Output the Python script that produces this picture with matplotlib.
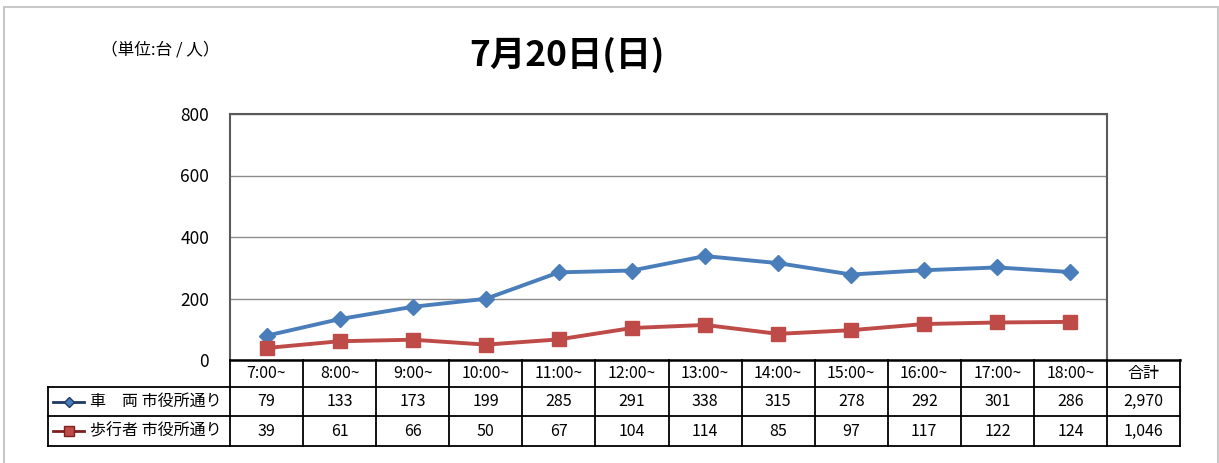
import matplotlib.pyplot as plt
from matplotlib.lines import Line2D
from matplotlib.patches import Rectangle

plt.rcParams['font.family'] = ['Noto Sans CJK JP', 'DejaVu Sans']

# data
hours = ['7:00~', '8:00~', '9:00~', '10:00~', '11:00~', '12:00~',
         '13:00~', '14:00~', '15:00~', '16:00~', '17:00~', '18:00~']
vehicles = [79, 133, 173, 199, 285, 291, 338, 315, 278, 292, 301, 286]
walkers = [39, 61, 66, 50, 67, 104, 114, 85, 97, 117, 122, 124]
vehicle_total = '2,970'
walker_total = '1,046'
series_names = ['車　両 市役所通り', '歩行者 市役所通り']
blue = '#4A7EBB'
red = '#BE4B48'

W, H = 1219, 463
fig = plt.figure(figsize=(W / 100, H / 100), dpi=100)


def fx(px):
    return px / W


def fy(py):
    return 1 - py / H


# outer frame
fig.add_artist(Rectangle((fx(4), fy(470)), fx(1214), fy(7) - fy(470),
                         transform=fig.transFigure, fill=False,
                         edgecolor='#c8c8c8', linewidth=1.5))

# plot area
left, right, top, bottom = 230, 1107, 114, 360
ax = fig.add_axes([fx(left), fy(bottom), fx(right - left), fy(top) - fy(bottom)])
x = list(range(len(hours)))
ax.plot(x, vehicles, color=blue, lw=2.8, marker='D', ms=8.5, zorder=3)
ax.plot(x, walkers, color=red, lw=2.8, marker='s', ms=10, zorder=3)
ax.set_xlim(-0.5, len(hours) - 0.5)
ax.set_ylim(0, 800)
ax.set_yticks([0, 200, 400, 600, 800])
ax.set_xticks([])
ax.grid(axis='y', color='#8c8c8c', lw=1)
ax.set_axisbelow(True)
for s in ax.spines.values():
    s.set_color('#5a5a5a')
    s.set_linewidth(1.5)
ax.spines['bottom'].set_visible(False)
ax.tick_params(axis='y', length=0, pad=15, labelsize=12.5)

# titles
fig.text(fx(567), fy(55), '7月20日(日)', fontsize=25.5, fontweight='bold',
         ha='center', va='center')
fig.text(fx(101), fy(50), '（単位:台 / 人）', fontsize=12,
         ha='left', va='center')

# data table under the plot
cw = (right - left) / len(hours)
tab_left, tab_right = 48, 1180
rows = [360, 387, 416, 446]
fs = 11.5


def hline(y, x0, x1, lw=1.3):
    fig.add_artist(Line2D([fx(x0), fx(x1)], [fy(y), fy(y)],
                          transform=fig.transFigure, color='black', lw=lw))


def vline(xp, y0, y1, lw=1.3):
    fig.add_artist(Line2D([fx(xp), fx(xp)], [fy(y0), fy(y1)],
                          transform=fig.transFigure, color='black', lw=lw))


hline(rows[0], left, tab_right, lw=1.8)
for r in rows[1:]:
    hline(r, tab_left, tab_right)
vline(tab_left, rows[1], rows[3])
for k in range(len(hours) + 1):
    vline(left + k * cw, rows[0], rows[3])
vline(tab_right, rows[0], rows[3])

cells_y = [(rows[i] + rows[i + 1]) / 2 for i in range(3)]
for i, h in enumerate(hours):
    cx = left + (i + 0.5) * cw
    fig.text(fx(cx), fy(cells_y[0]), h, fontsize=fs, ha='center', va='center')
    fig.text(fx(cx), fy(cells_y[1]), str(vehicles[i]), fontsize=fs, ha='center', va='center')
    fig.text(fx(cx), fy(cells_y[2]), str(walkers[i]), fontsize=fs, ha='center', va='center')
tx = (right + tab_right) / 2
fig.text(fx(tx), fy(cells_y[0]), '合計', fontsize=fs, ha='center', va='center')
fig.text(fx(tx), fy(cells_y[1]), vehicle_total, fontsize=fs, ha='center', va='center')
fig.text(fx(tx), fy(cells_y[2]), walker_total, fontsize=fs, ha='center', va='center')

# legend keys in the table
for yrow, col, mk, ms, name in [(cells_y[1], blue, 'D', 5, series_names[0]),
                                (cells_y[2], red, 's', 7, series_names[1])]:
    keycol = '#1f3864' if col == blue else '#7f1f1f'
    fig.add_artist(Line2D([fx(53), fx(84)], [fy(yrow), fy(yrow)],
                          transform=fig.transFigure, color=keycol, lw=2))
    fig.add_artist(Line2D([fx(68.5)], [fy(yrow)], transform=fig.transFigure,
                          color=col, marker=mk, ms=ms, mec=keycol, lw=0))
    fig.text(fx(90), fy(yrow), name, fontsize=11.5, ha='left', va='center')

fig.savefig('out.png', dpi=100)
